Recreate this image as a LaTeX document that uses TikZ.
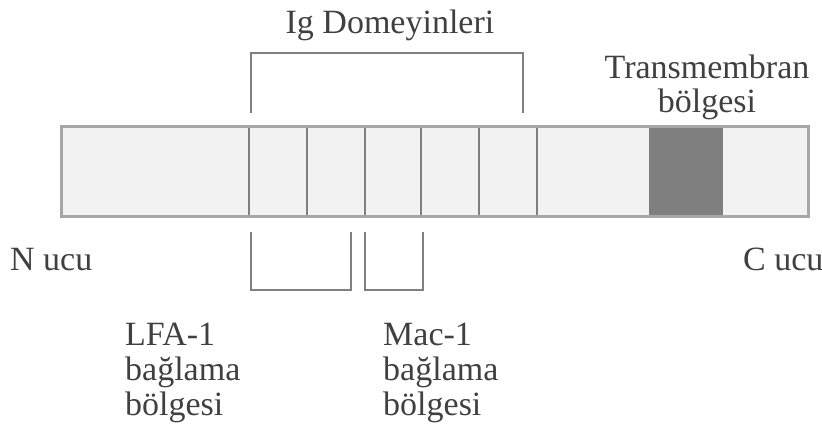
\documentclass[tikz,border=0pt]{standalone}
\usepackage{fontspec}
\setmainfont{Liberation Serif}
\definecolor{barfill}{HTML}{F2F2F2}
\definecolor{barline}{HTML}{A6A6A6}
\definecolor{divline}{HTML}{808080}
\definecolor{tmfill}{HTML}{7F7F7F}
\definecolor{txt}{HTML}{404040}
\tikzset{
  lbl/.style={inner sep=0pt, text=txt, font=\fontsize{34}{36}\selectfont, anchor=base west},
  lblc/.style={inner sep=0pt, text=txt, font=\fontsize{34}{36}\selectfont, anchor=base},
  divider/.style={draw=divline, line width=2pt},
  bracket/.style={draw=divline, line width=2pt},
}
\begin{document}
\begin{tikzpicture}[x=1pt,y=-1pt]
\useasboundingbox (0,0) rectangle (822,432);
% bar
\fill[barfill] (61,126) rectangle (808,216);
\fill[tmfill] (649,126) rectangle (723,216);
\foreach \xx in {249,307,365,421,479,537}{
  \draw[divider] (\xx,126) -- (\xx,216);
}
\draw[barline, line width=3pt] (61,126) rectangle (808,216);
% top bracket
\draw[bracket] (251,113) -- (251,53) -- (523,53) -- (523,113);
% bottom brackets
\draw[bracket] (251,232) -- (251,290) -- (351,290) -- (351,232);
\draw[bracket] (365,232) -- (365,290) -- (423,290) -- (423,232);
% texts
\node[lblc] (ig) at (390,33) {Ig Domeyinleri};
\node[lblc] (tm1) at (707,78) {Transmembran};
\node[lblc] (tm2) at (707,112) {bölgesi};
\node[lbl] (n) at (10,270) {N ucu};
\node[lbl] (c) at (743,270) {C ucu};
\node[lbl] (l1) at (125,345) {LFA-1};
\node[lbl] (l2) at (125,380) {bağlama};
\node[lbl] (l3) at (125,415) {bölgesi};
\node[lbl] (m1) at (383,345) {Mac-1};
\node[lbl] (m2) at (383,380) {bağlama};
\node[lbl] (m3) at (383,415) {bölgesi};
\end{tikzpicture}
\end{document}
